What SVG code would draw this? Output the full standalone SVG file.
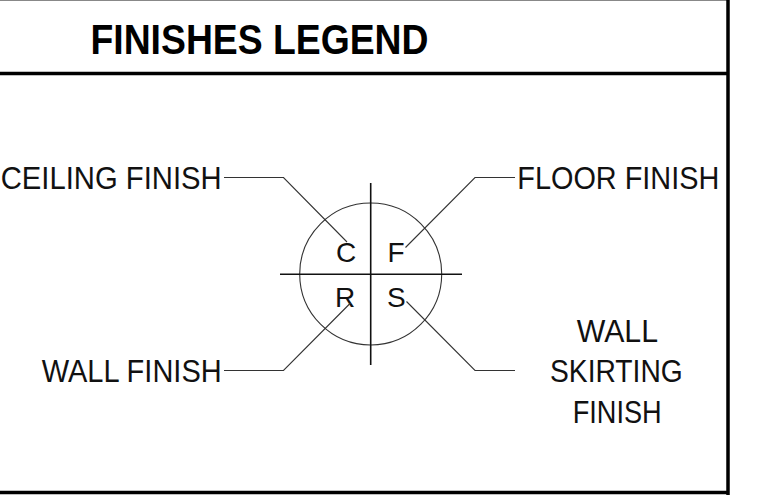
<svg xmlns="http://www.w3.org/2000/svg" width="764" height="495" viewBox="0 0 764 495">
<style>
.frame{stroke:#000;stroke-width:3.5;fill:none}
.lbl{font-family:"Liberation Sans",Arial,sans-serif;font-size:31px;fill:#111}
.ltr{font-family:"Liberation Sans",Arial,sans-serif;font-size:28px;fill:#111}
.lead{stroke:#333;stroke-width:1.1;fill:none}
.cross{stroke:#111;stroke-width:1.6}
</style>
<rect width="764" height="495" fill="#fff"/>
<g id="frame">
<line x1="0" y1="0.5" x2="727" y2="0.5" stroke="#888" stroke-width="1.2"/>
<line class="frame" x1="728" y1="0" x2="728" y2="495"/>
<line class="frame" x1="0" y1="73.5" x2="728" y2="73.5"/>
<line class="frame" x1="0" y1="492.5" x2="728" y2="492.5"/>
</g>
<g id="title">
<text x="90.5" y="53.5" font-family="'Liberation Sans',Arial,sans-serif" font-weight="bold" font-size="43" fill="#000" textLength="338" lengthAdjust="spacingAndGlyphs">FINISHES LEGEND</text>
</g>
<g id="symbol">
<circle cx="370.7" cy="274" r="71" fill="none" stroke="#333" stroke-width="1.1"/>
<line class="cross" x1="370.7" y1="183" x2="370.7" y2="365"/>
<line class="cross" x1="280" y1="274.3" x2="462" y2="274.3"/>
<text class="ltr" x="336" y="262">C</text>
<text class="ltr" x="387.5" y="262">F</text>
<text class="ltr" x="335" y="307">R</text>
<text class="ltr" x="387" y="307">S</text>
</g>
<g id="connectors">
<polyline class="lead" points="224,177.5 283.5,177.5 347,242"/>
<polyline class="lead" points="515,177.5 475,177.5 405.5,247.5"/>
<polyline class="lead" points="224,370.5 283.5,370.5 350.5,303"/>
<polyline class="lead" points="515,370.5 475,370.5 406.5,301.5"/>
</g>
<g id="ceiling-finish"><text class="lbl" x="221.7" y="188.5" text-anchor="end" textLength="221" lengthAdjust="spacingAndGlyphs">CEILING FINISH</text></g>
<g id="wall-finish"><text class="lbl" x="221.7" y="381.7" text-anchor="end" textLength="180" lengthAdjust="spacingAndGlyphs">WALL FINISH</text></g>
<g id="floor-finish"><text class="lbl" x="517.3" y="188.5" textLength="202" lengthAdjust="spacingAndGlyphs">FLOOR FINISH</text></g>
<g id="wall-skirting-finish">
<text class="lbl" x="576.7" y="341.7" textLength="81.3" lengthAdjust="spacingAndGlyphs">WALL</text>
<text class="lbl" x="550" y="381.7" textLength="132.7" lengthAdjust="spacingAndGlyphs">SKIRTING</text>
<text class="lbl" x="572.7" y="422.7" textLength="89" lengthAdjust="spacingAndGlyphs">FINISH</text>
</g>
</svg>
